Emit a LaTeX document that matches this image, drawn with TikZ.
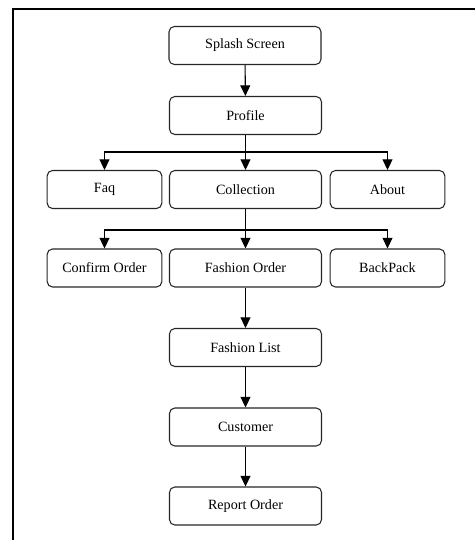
\documentclass[tikz,border=0pt]{standalone}
\usepackage{fontspec}
\setmainfont{Liberation Serif}
\usetikzlibrary{arrows.meta}
\tikzset{
  screen/.style={draw=black!85, line width=0.8pt, rounded corners=4pt, minimum height=28.5pt, font=\fontsize{10.6}{12}\selectfont, inner sep=0pt},
  wide/.style={screen, minimum width=114pt},
  narrow/.style={screen, minimum width=86pt},
  flow/.style={-{Triangle[length=8pt,width=7.5pt]}, line width=0.8pt}
}
\begin{document}
\begin{tikzpicture}[x=0.75pt, y=-0.75pt]
\useasboundingbox (0,0) rectangle (475,540);
\draw[line width=1.6pt] (475,9) -- (13,9) -- (13,540);
\node[wide] (splash) at (245,45.5) {Splash Screen};
\node[wide] (profile) at (245.5,115.5) {Profile};
\node[narrow] (faq) at (104.5,189.5) {Faq};
\node[wide] (collection) at (245.5,189.5) {Collection};
\node[narrow] (about) at (387.5,189.5) {About};
\node[narrow] (confirm) at (104.5,268) {Confirm Order};
\node[wide] (fashionorder) at (245.5,268) {Fashion Order};
\node[narrow] (backpack) at (387.5,268) {BackPack};
\node[wide] (fashionlist) at (245.5,347.5) {Fashion List};
\node[wide] (customer) at (245.5,427) {Customer};
\node[wide] (report) at (245.5,506) {Report Order};
\coordinate (b1) at (245,152);
\coordinate (b2) at (245,230);
\draw[flow] (splash) -- (profile);
\draw[flow] (profile.south) -- (collection.north);
\draw[flow] (b1) -| (faq.north);
\draw[flow] (b1) -| (about.north);
\draw[flow] (collection.south) -- (fashionorder.north);
\draw[flow] (b2) -| (confirm.north);
\draw[flow] (b2) -| (backpack.north);
\draw[flow] (fashionorder) -- (fashionlist);
\draw[flow] (fashionlist) -- (customer);
\draw[flow] (customer) -- (report);
\end{tikzpicture}
\end{document}
